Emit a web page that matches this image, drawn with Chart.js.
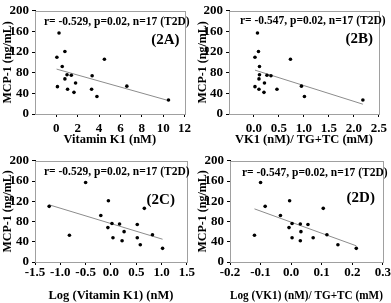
<!DOCTYPE html>
<html>
<head>
<meta charset="utf-8">
<script src="https://cdn.jsdelivr.net/npm/chart.js@4/dist/chart.umd.min.js"></script>
<style>
  html, body { margin: 0; padding: 0; background: #fff; }
  #wrap { position: relative; width: 391px; height: 303px; overflow: hidden; }
  canvas { position: absolute; }
</style>
</head>
<body>
<div id="wrap">
  <canvas id="cA" width="195" height="150" style="left:0;top:0"></canvas>
  <canvas id="cB" width="196" height="150" style="left:195px;top:0"></canvas>
  <canvas id="cC" width="195" height="153" style="left:0;top:150px"></canvas>
  <canvas id="cD" width="196" height="153" style="left:195px;top:150px"></canvas>
</div>
<script>
// MCP-1 (ng/mL), same 17 patients in every panel
var mcp1 = [157, 110, 121, 106, 92, 53, 68, 76, 75, 48, 60, 42, 74, 48, 34, 54, 27];

// x values per panel, same patient order as mcp1
var vitK1 = [0.25, 0.05, 0.8, 4.5, 0.55, 0.1, 0.8, 1.0, 1.4, 1.05, 1.8, 1.65, 3.35, 3.3, 3.8, 6.6, 10.5];
var vk1Ratio = [0.07, 0.02, 0.09, 0.73, 0.11, 0.02, 0.1, 0.11, 0.26, 0.1, 0.21, 0.2, 0.34, 0.46, 1.01, 0.95, 2.18];
var logVitK1 = [-0.5, -1.22, -0.05, 0.66, -0.2, -0.82, -0.06, 0.02, 0.17, 0.04, 0.26, 0.22, 0.52, 0.52, 0.58, 0.82, 1.02];
var logVk1Ratio = [-0.1, -0.085, -0.005, 0.105, -0.035, -0.12, -0.007, 0.003, 0.03, 0.003, 0.032, 0.03, 0.055, 0.072, 0.153, 0.117, 0.213];

// trend lines, read at both ends
var fitAx = [0.02, 10.5], fitAy = [87, 26];
var fitBx = [0.02, 2.18], fitBy = [85, 19];
var fitCx = [-1.22, 1.02], fitCy = [113, 45];
var fitDx = [-0.12, 0.213], fitDy = [105, 32];

var yTicks = [0, 40, 80, 120, 160, 200];
var xTicksA = [0, 2, 4, 6, 8, 10, 12];
var xTicksB = [0, 0.5, 1, 1.5, 2, 2.5];
var xTicksC = [-1.5, -1, -0.5, 0, 0.5, 1, 1.5];
var xTicksD = [-0.2, -0.1, 0, 0.1, 0.2, 0.3];

var stats = ['r= -0.529, p=0.02, n=17 (T2D)', 'r= -0.547, p=0.02, n=17 (T2D)'];
var yTitle = 'MCP-1 (ng/mL)';

var FONT = '"Liberation Serif", "Times New Roman", serif';

function pairs(xs, ys) {
    return xs.map(function (x, i) { return {x: x, y: ys[i]}; });
}

// grey frame round the plot, stat text and panel tag
var panelDecor = {
    id: 'panelDecor',
    beforeDatasetsDraw: function (chart) {
        var ctx = chart.ctx, a = chart.chartArea;
        ctx.save();
        ctx.strokeStyle = '#a0a0a0';
        ctx.lineWidth = 1;
        ctx.strokeRect(Math.round(a.left) + 0.5, Math.round(a.top) + 0.5,
            Math.round(a.right - a.left), Math.round(a.bottom - a.top));
        ctx.restore();
    },
    afterDraw: function (chart, args, o) {
        var ctx = chart.ctx, a = chart.chartArea;
        ctx.save();
        ctx.fillStyle = '#000';
        ctx.textBaseline = 'middle';
        ctx.font = 'bold 11.5px ' + FONT;
        ctx.textAlign = 'left';
        ctx.fillText(o.stat, a.left + o.statDx, a.top + o.statDy);
        ctx.font = 'bold 15px ' + FONT;
        ctx.textAlign = 'right';
        ctx.fillText(o.tag, a.right - o.tagDx, a.top + o.tagDy);
        ctx.restore();
    }
};

function makePanel(id, cfg) {
    var axisFont = {family: FONT, weight: 'bold', size: 13};
    new Chart(document.getElementById(id), {
        type: 'scatter',
        data: {
            datasets: [{
                data: pairs(cfg.xs, mcp1),
                backgroundColor: '#000',
                borderColor: '#000',
                pointRadius: 1.8,
                pointBorderWidth: 0
            }, {
                data: pairs(cfg.fitX, cfg.fitY),
                showLine: true,
                borderColor: '#8c8c8c',
                borderWidth: 1,
                pointRadius: 0
            }]
        },
        options: {
            responsive: false,
            animation: false,
            devicePixelRatio: 1,
            layout: {padding: {top: cfg.pad[0], right: cfg.pad[1], bottom: 0, left: 0}},
            plugins: {
                legend: {display: false},
                tooltip: {enabled: false},
                panelDecor: cfg.decor
            },
            scales: {
                x: {
                    type: 'linear',
                    min: cfg.xMin,
                    max: cfg.xMax,
                    afterBuildTicks: function (s) {
                        s.ticks = cfg.xTicks.map(function (v) { return {value: v}; });
                    },
                    afterFit: function (s) { s.height = cfg.xH; },
                    border: {display: true, color: '#000', width: 1},
                    grid: {drawOnChartArea: false, drawTicks: true, tickLength: 3, color: '#000'},
                    ticks: {
                        color: '#000',
                        font: axisFont,
                        padding: cfg.xPad,
                        maxRotation: 0,
                        autoSkip: false,
                        callback: function (v) { return cfg.dec ? Number(v).toFixed(cfg.dec) : String(v); }
                    },
                    title: {
                        display: true,
                        text: cfg.xTitle,
                        color: '#000',
                        font: {family: FONT, weight: 'bold', size: 12.5},
                        padding: {top: 0, bottom: cfg.xTitlePad}
                    }
                },
                y: {
                    min: 0,
                    max: 200,
                    afterBuildTicks: function (s) {
                        s.ticks = yTicks.map(function (v) { return {value: v}; });
                    },
                    afterFit: function (s) { s.width = cfg.yW; },
                    border: {display: true, color: '#000', width: 1},
                    grid: {drawOnChartArea: false, drawTicks: true, tickLength: 3, color: '#000'},
                    ticks: {color: '#000', font: axisFont, padding: 3},
                    title: {
                        display: true,
                        text: yTitle,
                        color: '#000',
                        font: {family: FONT, weight: 'bold', size: 12},
                        padding: {top: 1, bottom: 0}
                    }
                }
            }
        },
        plugins: [panelDecor]
    });
}

makePanel('cA', {
    xs: vitK1, fitX: fitAx, fitY: fitAy, xMin: -2, xMax: 12, xTicks: xTicksA, dec: 0,
    xTitle: 'Vitamin K1 (nM)', pad: [4, 8], yW: 35, xH: 36, xPad: 4, xTitlePad: 3,
    decor: {stat: stats[0], statDx: 9, statDy: 11, tag: '(2A)', tagDx: 5, tagDy: 29}
});
makePanel('cB', {
    xs: vk1Ratio, fitX: fitBx, fitY: fitBy, xMin: -0.5, xMax: 2.5, xTicks: xTicksB, dec: 1,
    xTitle: 'VK1 (nM)/ TG+TC (mM)', pad: [4, 7], yW: 34, xH: 36, xPad: 4, xTitlePad: 3,
    decor: {stat: stats[1], statDx: 11, statDy: 10, tag: '(2B)', tagDx: 6, tagDy: 28}
});
makePanel('cC', {
    xs: logVitK1, fitX: fitCx, fitY: fitCy, xMin: -1.5, xMax: 1.5, xTicks: xTicksC, dec: 1,
    xTitle: 'Log (Vitamin K1) (nM)', pad: [4, 8], yW: 35, xH: 41, xPad: 0, xTitlePad: 0,
    decor: {stat: stats[0], statDx: 9, statDy: 11, tag: '(2C)', tagDx: 12, tagDy: 39}
});
makePanel('cD', {
    xs: logVk1Ratio, fitX: fitDx, fitY: fitDy, xMin: -0.2, xMax: 0.3, xTicks: xTicksD, dec: 1,
    xTitle: 'Log (VK1) (nM)/ TG+TC (mM)', pad: [4, 7], yW: 35, xH: 41, xPad: 0, xTitlePad: 0,
    decor: {stat: stats[1], statDx: 12, statDy: 12, tag: '(2D)', tagDx: 8, tagDy: 37}
});
</script>
</body>
</html>
